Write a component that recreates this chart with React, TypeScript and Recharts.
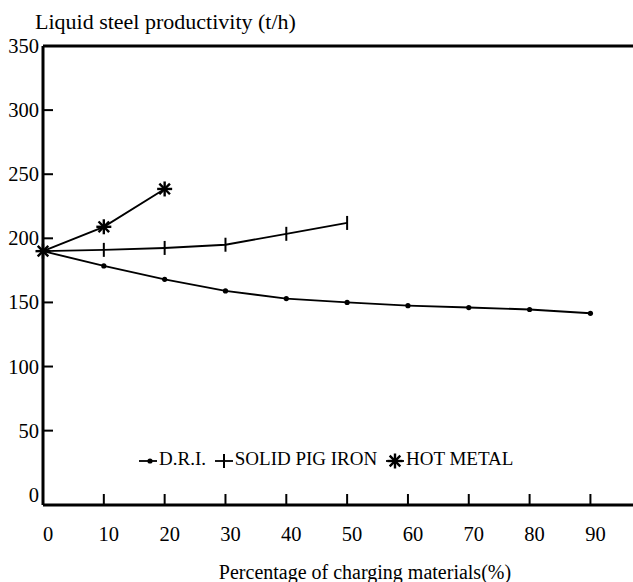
import React from "react";
import { LineChart, Line, XAxis, YAxis, ReferenceLine } from "recharts";

const percentages = [0, 10, 20, 30, 40, 50, 60, 70, 80, 90];
const driValues = [190, 178.5, 168, 159, 153, 150, 147.5, 146, 144.5, 141.5];
const pigIronValues = [190, 191, 192.5, 195, 203.5, 212];
const hotMetalValues = [190, 209, 238.5];
const yTicks = [0, 50, 100, 150, 200, 250, 300, 350];

const data = percentages.map((p, i) => ({
    x: p,
    dri: driValues[i],
    pig: pigIronValues[i],
    hot: hotMetalValues[i],
}));

const FONT = "'Liberation Serif', 'Times New Roman', serif";

const DotMark = (props: any) => {
    const { cx, cy, index } = props;
    if (cx == null || cy == null) return <g key={index} />;
    return <circle key={index} cx={cx} cy={cy} r={2.6} fill="#000" />;
};

const BarMark = (props: any) => {
    const { cx, cy, index } = props;
    if (cx == null || cy == null) return <g key={index} />;
    return <line key={index} x1={cx} x2={cx} y1={cy - 7} y2={cy + 7} stroke="#000" strokeWidth={2} />;
};

const StarMark = (props: any) => {
    const { cx, cy, index } = props;
    if (cx == null || cy == null) return <g key={index} />;
    const r = 7.5;
    const arms = [0, 45, 90, 135].map((a) => {
        const rad = (a * Math.PI) / 180;
        const dx = Math.cos(rad) * r;
        const dy = Math.sin(rad) * r;
        return <line key={a} x1={cx - dx} y1={cy - dy} x2={cx + dx} y2={cy + dy} stroke="#000" strokeWidth={2.4} />;
    });
    return <g key={index}>{arms}</g>;
};

const YTick = (props: any) => {
    const { x, y, payload } = props;
    const v = payload.value;
    return (
        <g>
            <text x={x - 1} y={y} textAnchor="end" dominantBaseline="central" fontSize={20.5} fontFamily={FONT} fill="#000">
                {v}
            </text>
            {v > 0 && v < 350 && <line x1={x + 3} x2={x + 13} y1={y} y2={y} stroke="#000" strokeWidth={2} />}
        </g>
    );
};

const XTick = (props: any) => {
    const { x, y, payload } = props;
    const v = payload.value;
    const axisY = y - 36;
    return (
        <g>
            {v > 0 && <line x1={x} x2={x} y1={axisY} y2={axisY - 11} stroke="#000" strokeWidth={2} />}
            <text x={x + 5} y={y} textAnchor="middle" fontSize={20.5} fontFamily={FONT} fill="#000">
                {v}
            </text>
        </g>
    );
};

function LegendIcon({ kind }: { kind: "dot" | "bar" | "star" }) {
    return (
        <svg width={18} height={18} style={{ verticalAlign: "middle", marginRight: 2 }}>
            <line x1={0} x2={18} y1={9} y2={9} stroke="#000" strokeWidth={1.8} />
            {kind === "dot" && <circle cx={11} cy={9} r={2.6} fill="#000" />}
            {kind === "bar" && <line x1={9} x2={9} y1={2} y2={16} stroke="#000" strokeWidth={2} />}
            {kind === "star" && <StarMark cx={9} cy={9} index={0} />}
        </svg>
    );
}

export default function App() {
    return (
        <div style={{ position: "absolute", left: 0, top: 0, width: 633, height: 582, background: "#fff", fontFamily: FONT }}>
            <LineChart width={633} height={582} data={data} margin={{ top: 46, right: 0, bottom: 0, left: 0 }}>
                <XAxis
                    dataKey="x"
                    type="number"
                    domain={[0, 97]}
                    ticks={percentages}
                    interval={0}
                    height={77}
                    tickSize={0}
                    tickMargin={36}
                    tick={<XTick />}
                    axisLine={{ stroke: "#000", strokeWidth: 3 }}
                    tickLine={false}
                />
                <YAxis
                    type="number"
                    domain={[-8, 350]}
                    ticks={yTicks}
                    interval={0}
                    width={43}
                    tickSize={0}
                    tickMargin={3}
                    tick={<YTick />}
                    axisLine={{ stroke: "#000", strokeWidth: 3 }}
                    tickLine={false}
                />
                <ReferenceLine y={350} stroke="#000" strokeWidth={3} />
                <Line type="linear" dataKey="dri" stroke="#000" strokeWidth={1.9} dot={DotMark} isAnimationActive={false} />
                <Line type="linear" dataKey="pig" stroke="#000" strokeWidth={1.9} dot={BarMark} isAnimationActive={false} />
                <Line type="linear" dataKey="hot" stroke="#000" strokeWidth={1.9} dot={StarMark} isAnimationActive={false} />
            </LineChart>
            <div style={{ position: "absolute", left: 35, top: 11, fontSize: 22, lineHeight: "22px", whiteSpace: "nowrap" }}>
                Liquid steel productivity (t/h)
            </div>
            <div style={{ position: "absolute", left: 65, width: 600, top: 562, fontSize: 20, lineHeight: "20px", textAlign: "center", whiteSpace: "nowrap" }}>
                Percentage of charging materials(%)
            </div>
            <div style={{ position: "absolute", left: 139, top: 449, fontSize: 19, lineHeight: "20px", whiteSpace: "nowrap" }}>
                <LegendIcon kind="dot" />D.R.I.{" "}
                <span style={{ marginLeft: 4 }} />
                <LegendIcon kind="bar" />SOLID PIG IRON{" "}
                <span style={{ marginLeft: 4 }} />
                <LegendIcon kind="star" />HOT METAL
            </div>
        </div>
    );
}
